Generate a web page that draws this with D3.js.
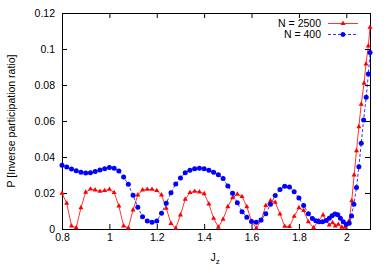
<!DOCTYPE html>
<html>
<head>
<meta charset="utf-8">
<script src="https://cdn.jsdelivr.net/npm/d3@7"></script>
<style>
	body{margin:0;background:#fff;}
	text{font-family:"Liberation Sans", Arial, sans-serif;}
	.axis text{font-size:10.5px;fill:#000;}
	.axis line{stroke:#000;}
</style>
</head>
<body>
<div id="chart"></div>
<script>

//data
const legendText = ["N = 2500", "N = 400"];

const xTicks = [0.8, 1, 1.2, 1.4, 1.6, 1.8, 2];
const yTicks = [0, 0.02, 0.04, 0.06, 0.08, 0.1, 0.12];

//N = 2500
const redX = [0.80,0.82,0.84,0.86,0.88,0.90,0.92,0.94,0.96,0.98,
	1.00,1.02,1.04,1.06,1.08,1.10,1.12,1.14,1.16,1.18,
	1.20,1.22,1.24,1.26,1.28,1.30,1.32,1.34,1.36,1.38,
	1.40,1.42,1.44,1.46,1.48,1.50,1.52,1.54,1.56,1.58,
	1.60,1.62,1.64,1.66,1.68,1.70,1.72,1.74,1.76,1.78,
	1.80,1.82,1.84,1.862,1.882,1.902,1.916,1.928,1.942,1.953,
	1.966,1.981,1.995,2.012,2.023,2.033,2.043,2.053,2.063,2.075,
	2.083,2.093,2.10];
const redY = [0.0198,0.0143,0.0017,0.0007,0.0118,0.0204,0.0222,0.0217,0.0209,0.0213,
	0.0220,0.0202,0.0128,0.0017,0.0006,0.0106,0.0189,0.0217,0.0220,0.0220,
	0.0213,0.0189,0.0115,0.0031,0.0004,0.0078,0.0165,0.0202,0.0209,0.0206,
	0.0196,0.0139,0.0059,0.0010,0.0054,0.0124,0.0174,0.0193,0.0180,0.0124,
	0.0044,0.0004,0.0046,0.0130,0.0157,0.0148,0.0083,0.0015,0.0013,0.0070,
	0.0118,0.0102,0.0040,0.0007,0.0046,0.0078,0.0046,0.0022,0.0035,0.0017,
	0.0026,0.0010,0.0010,0.0045,0.0157,0.0300,0.0435,0.0568,0.0693,0.0810,
	0.0917,0.1017,0.1120];

//N = 400
const blueX = [0.80,0.82,0.84,0.86,0.88,0.90,0.92,0.94,0.96,0.98,
	1.00,1.02,1.04,1.06,1.08,1.10,1.12,1.14,1.16,1.18,
	1.20,1.22,1.24,1.26,1.28,1.30,1.32,1.34,1.36,1.38,
	1.40,1.42,1.44,1.46,1.48,1.50,1.52,1.54,1.56,1.58,
	1.60,1.62,1.64,1.66,1.68,1.70,1.72,1.74,1.76,1.78,
	1.80,1.82,1.84,1.857,1.871,1.885,1.90,1.915,1.928,1.94,
	1.952,1.964,1.975,1.987,2.00,2.012,2.022,2.032,2.043,2.053,
	2.063,2.073,2.084,2.093,2.10];
const blueY = [0.0354,0.0344,0.0333,0.0324,0.0315,0.0311,0.0313,0.0319,0.0328,0.0335,
	0.0341,0.0337,0.0322,0.0289,0.0248,0.0187,0.0121,0.0068,0.0044,0.0037,
	0.0044,0.0087,0.0143,0.0202,0.0250,0.0283,0.0313,0.0326,0.0335,0.0337,
	0.0335,0.0326,0.0315,0.0302,0.0280,0.0239,0.0198,0.0146,0.0096,0.0065,
	0.0041,0.0037,0.0050,0.0085,0.0138,0.0186,0.0220,0.0237,0.0234,0.0207,
	0.0172,0.0130,0.0085,0.0059,0.0046,0.0040,0.0040,0.0047,0.0060,0.0073,
	0.0083,0.0079,0.0060,0.0040,0.0027,0.0032,0.0072,0.0138,0.0230,0.0346,
	0.0476,0.0606,0.0732,0.0861,0.0980];


function chart(){

	//sizing
	let margin = {top:13, right:18, bottom:44, left:62};
	let width = 388;
	let height = 273;

	//initiate svg
	let svg = d3.select("#chart")
		.append("svg")
		.attr("width", width)
		.attr("height", height);

	const red = redX.map((x,i)=>{return {x:x, y:redY[i]};});
	const blue = blueX.map((x,i)=>{return {x:x, y:blueY[i]};});

	//scales
	const xScale = d3.scaleLinear()
		.domain([0.8, 2.1])
		.range([margin.left, width-margin.right]);

	const yScale = d3.scaleLinear()
		.domain([0, 0.12])
		.range([height-margin.bottom, margin.top]);

	const fmt = d3.format("");

	//axes, ticks pointing inward like gnuplot
	svg.append("g")
		.attr("class", "axis")
		.attr("transform", `translate(0,${height-margin.bottom})`)
		.call(d3.axisBottom(xScale).tickValues(xTicks).tickSize(-5).tickSizeOuter(0).tickPadding(5).tickFormat(fmt));

	svg.append("g")
		.attr("class", "axis")
		.attr("transform", `translate(${margin.left},0)`)
		.call(d3.axisLeft(yScale).tickValues(yTicks).tickSize(-5).tickSizeOuter(0).tickPadding(7).tickFormat(fmt));

	svg.append("g")
		.attr("class", "axis")
		.attr("transform", `translate(0,${margin.top})`)
		.call(d3.axisTop(xScale).tickValues(xTicks).tickSize(-5).tickSizeOuter(0).tickFormat(""));

	svg.append("g")
		.attr("class", "axis")
		.attr("transform", `translate(${width-margin.right},0)`)
		.call(d3.axisRight(yScale).tickValues(yTicks).tickSize(-5).tickSizeOuter(0).tickFormat(""));

	svg.selectAll(".axis .domain").remove();

	//border box
	svg.append("rect")
		.attr("x", margin.left)
		.attr("y", margin.top)
		.attr("width", width-margin.left-margin.right)
		.attr("height", height-margin.top-margin.bottom)
		.attr("fill", "none")
		.attr("stroke", "#000")
		.attr("stroke-width", 1)
		.attr("shape-rendering", "crispEdges");

	let line = d3.line()
		.x((d)=>{return xScale(d.x);})
		.y((d)=>{return yScale(d.y);});

	const tri = d3.symbol().type(d3.symbolTriangle).size(11);

	//N = 2500
	svg.append("path")
		.datum(red)
		.attr("fill", "none")
		.attr("stroke", "#ff0000")
		.attr("stroke-width", 0.8)
		.attr("d", line);

	svg.selectAll(".tri")
		.data(red)
		.enter()
		.append("path")
		.attr("class", "tri")
		.attr("transform", (d)=>{return `translate(${xScale(d.x)},${yScale(d.y)})`;})
		.attr("d", tri)
		.attr("fill", "#ff0000");

	//N = 400
	svg.append("path")
		.datum(blue)
		.attr("fill", "none")
		.attr("stroke", "#0000ff")
		.attr("stroke-width", 0.8)
		.attr("stroke-dasharray", "3,2")
		.attr("d", line);

	svg.selectAll(".dot")
		.data(blue)
		.enter()
		.append("circle")
		.attr("class", "dot")
		.attr("cx", (d)=>{return xScale(d.x);})
		.attr("cy", (d)=>{return yScale(d.y);})
		.attr("r", 2.5)
		.attr("fill", "#0000ff");

	//legend
	let legend = svg.selectAll(".legend")
		.data(legendText)
		.enter()
		.append("g")
		.attr("class", "legend")
		.attr("transform", (d,i)=>{return `translate(0,${23.5 + i*11})`;});

	legend.append("text")
		.attr("x", 321)
		.attr("dy", "0.35em")
		.attr("text-anchor", "end")
		.attr("font-size", "10.5px")
		.text((d)=>{return d;});

	legend.append("line")
		.attr("x1", 328)
		.attr("x2", 358)
		.attr("stroke", (d,i)=>{return i==0 ? "#ff0000" : "#0000ff";})
		.attr("stroke-width", 0.8)
		.attr("stroke-dasharray", (d,i)=>{return i==0 ? null : "3,2";});

	legend.append("path")
		.attr("transform", "translate(343,0)")
		.attr("d", (d,i)=>{return i==0 ? tri() : d3.symbol().type(d3.symbolCircle).size(19.6)();})
		.attr("fill", (d,i)=>{return i==0 ? "#ff0000" : "#0000ff";});

	//axis titles
	svg.append("text")
		.attr("transform", `translate(15,${(margin.top + height-margin.bottom)/2}) rotate(-90)`)
		.attr("text-anchor", "middle")
		.attr("font-size", "10.5px")
		.text("P [Inverse participation ratio]");

	let xLabel = svg.append("text")
		.attr("x", 215)
		.attr("y", 261)
		.attr("text-anchor", "middle")
		.attr("font-size", "10.5px");
	xLabel.append("tspan").text("J");
	xLabel.append("tspan")
		.attr("dy", 3)
		.attr("font-size", "8px")
		.text("z");

}

chart();
</script>
</body>
</html>
